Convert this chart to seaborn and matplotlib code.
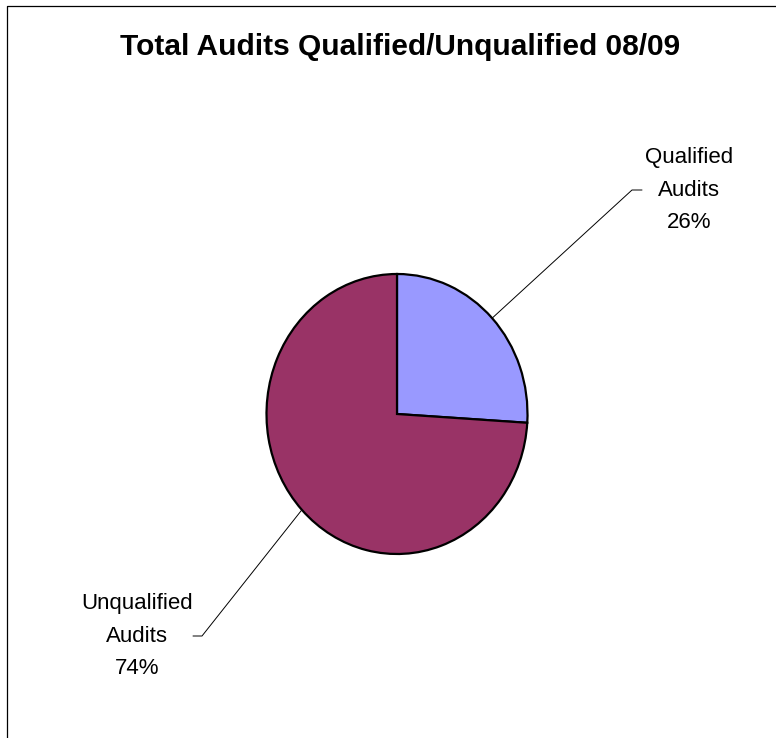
import numpy as np
import matplotlib
matplotlib.use("Agg")
import matplotlib.pyplot as plt
import seaborn as sns

# Audit outcomes for 08/09
categories = ["Qualified\nAudits", "Unqualified\nAudits"]
shares = [26, 74]
colors = ["#9999FF", "#993366"]
title = "Total Audits Qualified/Unqualified 08/09"

sns.set_theme(style="white")
plt.rcParams["font.family"] = ["Liberation Sans", "DejaVu Sans"]

W, H, DPI = 776, 738, 100
fig = plt.figure(figsize=(W / DPI, H / DPI), dpi=DPI)
fig.patch.set_facecolor("white")

# overlay axes working in pixel units (origin top-left)
ov = fig.add_axes([0, 0, 1, 1], zorder=0)
ov.set_xlim(0, W)
ov.set_ylim(H, 0)
ov.axis("off")

# chart-area border
ov.plot([7, 7, W + 5], [H + 5, 6, 6], color="black", lw=0.9, solid_capstyle="butt")

# pie axes (slightly taller than wide)
cx, cy, rx, ry = 397, 414, 130.5, 140
pax = fig.add_axes([(cx - rx) / W, (H - cy - ry) / H, 2 * rx / W, 2 * ry / H], zorder=1)
wedges, _ = pax.pie(shares, colors=colors, startangle=90, counterclock=False,
                    wedgeprops=dict(edgecolor="black", linewidth=1.6))
pax.set_aspect("auto")
pax.set_xlim(-1, 1)
pax.set_ylim(-1, 1)
pax.axis("off")

# labels with leader lines
label_pos = [(689, 190, 642, 632), (137, 636, 193, 202)]
for w, lab, val, (tx, ty, hx, kx) in zip(wedges, categories, shares, label_pos):
    mid = np.deg2rad((w.theta1 + w.theta2) / 2)
    px = cx + rx * np.cos(mid)
    py = cy - ry * np.sin(mid)
    ov.plot([px, kx, hx], [py, ty, ty], color="black", lw=0.7)
    ov.text(tx, ty, f"{lab}\n{val}%", ha="center", va="center",
            fontsize=16, linespacing=1.7, color="black")

fig.text(400 / W, 1 - 47 / H, title, ha="center", va="center",
         fontsize=21.5, fontweight="bold", color="black")

fig.savefig("out.png", dpi=DPI, facecolor="white")
